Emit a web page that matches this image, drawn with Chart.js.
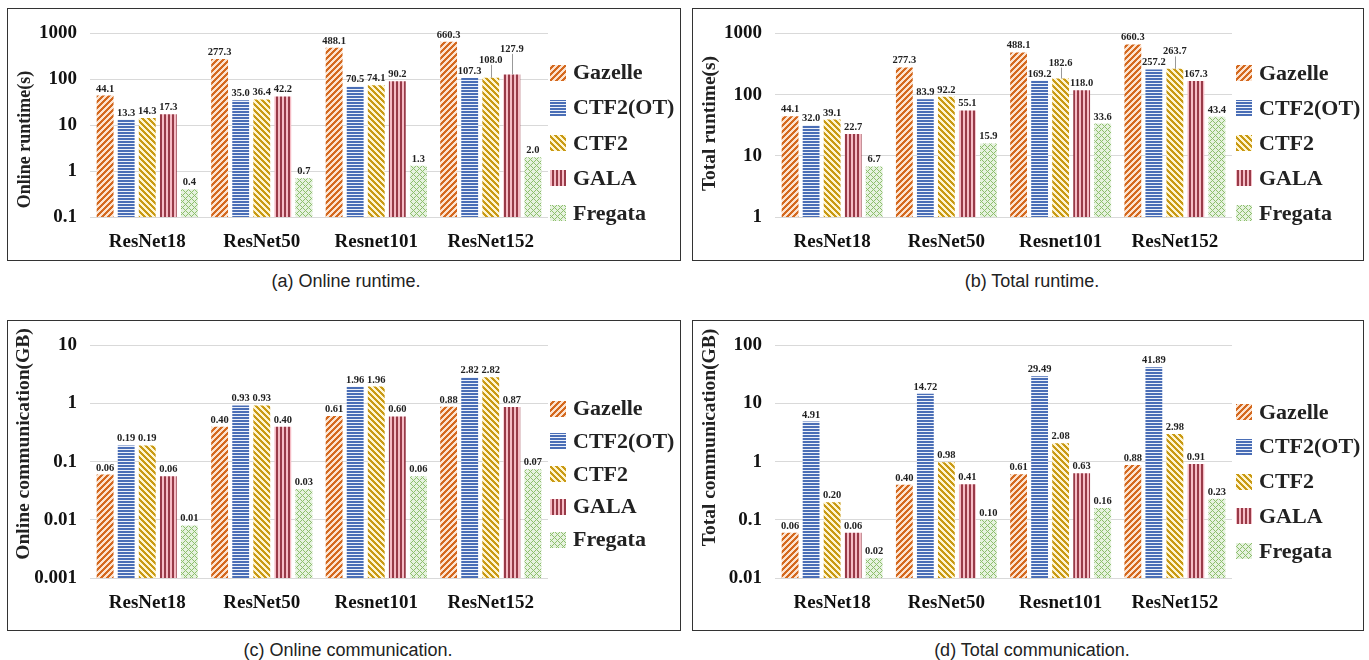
<!DOCTYPE html>
<html><head><meta charset="utf-8">
<script src="https://cdn.jsdelivr.net/npm/chart.js@4.4.0/dist/chart.umd.min.js"></script>
<style>
body{margin:0;background:#fff;width:1369px;height:660px;position:relative;overflow:hidden;}
.panel{position:absolute;border:1px solid #333;}
.panel canvas{position:absolute;left:0;top:0;}
.cap{position:absolute;font-family:"Liberation Sans",Arial,sans-serif;font-size:18px;line-height:20px;color:#222;text-align:center;width:400px;}
</style></head><body>
<div class="panel" style="left:7px;top:8px;width:672px;height:251px"><canvas id="ca" width="672" height="251"></canvas></div>
<div class="panel" style="left:692px;top:8px;width:670px;height:251px"><canvas id="cb" width="670" height="251"></canvas></div>
<div class="panel" style="left:7px;top:320px;width:672px;height:309px"><canvas id="cc" width="672" height="309"></canvas></div>
<div class="panel" style="left:692px;top:320px;width:670px;height:309px"><canvas id="cd" width="670" height="309"></canvas></div>
<div class="cap" style="left:146px;top:271px">(a) Online runtime.</div>
<div class="cap" style="left:832px;top:271px">(b) Total runtime.</div>
<div class="cap" style="left:148px;top:640px">(c) Online communication.</div>
<div class="cap" style="left:832px;top:640px">(d) Total communication.</div>
<script>
// ---------- data ----------
const categories = ['ResNet18', 'ResNet50', 'Resnet101', 'ResNet152'];
const seriesNames = ['Gazelle', 'CTF2(OT)', 'CTF2', 'GALA', 'Fregata'];

// (a) Online runtime (s)
const aGazelle = [44.1, 277.3, 488.1, 660.3];
const aCTF2OT  = [13.3, 35.0, 70.5, 107.3];
const aCTF2    = [14.3, 36.4, 74.1, 108.0];
const aGALA    = [17.3, 42.2, 90.2, 127.9];
const aFregata = [0.4, 0.7, 1.3, 2.0];

// (b) Total runtime (s)
const bGazelle = [44.1, 277.3, 488.1, 660.3];
const bCTF2OT  = [32.0, 83.9, 169.2, 257.2];
const bCTF2    = [39.1, 92.2, 182.6, 263.7];
const bGALA    = [22.7, 55.1, 118.0, 167.3];
const bFregata = [6.7, 15.9, 33.6, 43.4];

// (c) Online communication (GB)
const cGazelle = [0.06, 0.40, 0.61, 0.88];
const cCTF2OT  = [0.19, 0.93, 1.96, 2.82];
const cCTF2    = [0.19, 0.93, 1.96, 2.82];
const cGALA    = [0.056, 0.40, 0.60, 0.87];
const cFregata = [0.008, 0.034, 0.056, 0.074];

// (d) Total communication (GB)
const dGazelle = [0.06, 0.40, 0.61, 0.88];
const dCTF2OT  = [4.91, 14.72, 29.49, 41.89];
const dCTF2    = [0.20, 0.98, 2.08, 2.98];
const dGALA    = [0.06, 0.41, 0.63, 0.91];
const dFregata = [0.022, 0.10, 0.16, 0.23];

// tick values and labels
const ticksA = [0.1, 1, 10, 100, 1000];
const tickLabelsA = ['0.1', '1', '10', '100', '1000'];
const ticksB = [1, 10, 100, 1000];
const tickLabelsB = ['1', '10', '100', '1000'];
const ticksC = [0.001, 0.01, 0.1, 1, 10];
const tickLabelsC = ['0.001', '0.01', '0.1', '1', '10'];
const ticksD = [0.01, 0.1, 1, 10, 100];
const tickLabelsD = ['0.01', '0.1', '1', '10', '100'];

// ---------- patterns ----------
function makePattern(kind, s, w, fg, bg) {
  const c = document.createElement('canvas');
  c.width = s; c.height = s;
  const g = c.getContext('2d');
  g.fillStyle = bg; g.fillRect(0, 0, s, s);
  g.fillStyle = fg;
  for (let y = 0; y < s; y++) for (let x = 0; x < s; x++) {
    let on = false;
    if (kind === 'fwd') on = ((x + y) % s) < w;
    else if (kind === 'back') on = (((x - y) % s + s) % s) < w;
    else if (kind === 'h') on = (y % s) < w;
    else if (kind === 'v') on = (x % s) < w;
    else if (kind === 'cross') on = ((x + y) % s) < w || (((x - y) % s + s) % s) < w;
    if (on) g.fillRect(x, y, 1, 1);
  }
  return g.createPattern(c, 'repeat');
}
const pctx = document.createElement('canvas').getContext('2d');
const patterns = [
  makePattern('fwd', 6, 3, '#D4691F', '#FCE3D0'),
  makePattern('h', 3, 2, '#4A6EB6', '#EEF2FA'),
  makePattern('back', 6, 3, '#C99A14', '#FFF5D2'),
  makePattern('v', 4, 2, '#983A48', '#F5BCC5'),
  makePattern('cross', 6, 1, '#8DBF6C', '#E6F2DF')
];

const SERIF = '"Liberation Serif", "Times New Roman", serif';

// ---------- decoration plugin: axis title, legend, value labels ----------
const deco = {
  id: 'deco',
  afterDatasetsDraw(chart) {
    const o = chart.options.plugins.deco;
    const ctx = chart.ctx;
    ctx.save();
    ctx.font = 'bold 10.5px ' + SERIF;
    ctx.textAlign = 'center';
    ctx.textBaseline = 'alphabetic';
    const h = 10;
    const n = chart.data.labels.length;
    for (let j = 0; j < n; j++) {
      const placed = [];
      chart.data.datasets.forEach((ds, i) => {
        const el = chart.getDatasetMeta(i).data[j];
        const txt = ds.data[j].toFixed(o.decimals);
        const w = ctx.measureText(txt).width;
        const r = {l: el.x - w / 2, r: el.x + w / 2, b: el.y - 4, t: el.y - 4 - h};
        let moved = false, again = true;
        while (again) {
          again = false;
          for (const p of placed) {
            if (r.l < p.r && r.r > p.l && r.t < p.b && r.b > p.t) {
              const nb = p.t - 1;
              r.t -= (r.b - nb); r.b = nb; moved = true; again = true;
            }
          }
        }
        placed.push(r);
        ctx.fillStyle = '#222';
        ctx.fillText(txt, el.x, r.b);
        if (moved) {
          ctx.strokeStyle = '#999';
          ctx.lineWidth = 1;
          ctx.beginPath();
          ctx.moveTo(Math.round(el.x) + 0.5, r.b + 2);
          ctx.lineTo(Math.round(el.x) + 0.5, el.y);
          ctx.stroke();
        }
      });
    }
    ctx.restore();
  },
  afterDraw(chart) {
    const o = chart.options.plugins.deco;
    const ctx = chart.ctx;
    ctx.save();
    // y title
    ctx.translate(o.titleX, o.titleY);
    ctx.rotate(-Math.PI / 2);
    ctx.font = 'bold ' + o.titleSize + 'px ' + SERIF;
    ctx.fillStyle = '#222';
    ctx.textAlign = 'center';
    ctx.textBaseline = 'middle';
    ctx.fillText(o.title, 0, 0);
    ctx.restore();
    // legend
    ctx.save();
    ctx.font = 'bold 22px ' + SERIF;
    ctx.textAlign = 'left';
    ctx.textBaseline = 'middle';
    chart.data.datasets.forEach((ds, i) => {
      const y = o.legY + i * o.legDy;
      ctx.fillStyle = ds.backgroundColor;
      ctx.fillRect(o.legX, Math.round(y - 8), 16, 16);
      ctx.fillStyle = '#222';
      ctx.fillText(ds.label, o.legX + 23, y + 1);
    });
    ctx.restore();
  }
};

function makeChart(id, series, ticks, tickLabels, cfg) {
  const canvas = document.getElementById(id);
  return new Chart(canvas.getContext('2d'), {
    type: 'bar',
    data: {
      labels: categories,
      datasets: seriesNames.map((name, i) => ({
        label: name, data: series[i], backgroundColor: patterns[i],
        borderWidth: 0, categoryPercentage: 0.92, barPercentage: 0.8
      }))
    },
    options: {
      responsive: false, animation: false,
      layout: {padding: {left: 0, right: canvas.width - cfg.right, top: cfg.top, bottom: 0}},
      plugins: {
        legend: {display: false}, tooltip: {enabled: false},
        deco: cfg.deco
      },
      scales: {
        x: {
          grid: {display: false, drawTicks: false}, border: {display: false},
          ticks: {font: {family: SERIF, weight: 'bold', size: 19}, color: '#111', padding: 14},
          afterFit(s) { s.height = canvas.height - cfg.bottom; }
        },
        y: {
          type: 'logarithmic', min: ticks[0], max: ticks[ticks.length - 1],
          grid: {color: '#d9d9d9', lineWidth: 1, drawTicks: false}, border: {display: false},
          ticks: {
            font: {family: SERIF, weight: 'bold', size: 19}, color: '#111', padding: 13, autoSkip: false,
            callback: (v) => { const k = ticks.indexOf(v); return k >= 0 ? tickLabels[k] : ''; }
          },
          afterBuildTicks(s) { s.ticks = ticks.map(v => ({value: v})); },
          afterFit(s) { s.width = 82; }
        }
      }
    },
    plugins: [deco]
  });
}

makeChart('ca', [aGazelle, aCTF2OT, aCTF2, aGALA, aFregata], ticksA, tickLabelsA,
  {top: 13, bottom: 208, right: 540,
   deco: {decimals: 1, title: 'Online runtime(s)', titleSize: 18, titleX: 17, titleY: 130.5, legX: 542, legY: 63.7, legDy: 35.1}});
makeChart('cb', [bGazelle, bCTF2OT, bCTF2, bGALA, bFregata], ticksB, tickLabelsB,
  {top: 13, bottom: 208, right: 539,
   deco: {decimals: 1, title: 'Total runtime(s)', titleSize: 19.5, titleX: 17, titleY: 114.5, legX: 543, legY: 64, legDy: 35}});
makeChart('cc', [cGazelle, cCTF2OT, cCTF2, cGALA, cFregata], ticksC, tickLabelsC,
  {top: 17, bottom: 257, right: 540,
   deco: {decimals: 2, title: 'Online communication(GB)', titleSize: 19.5, titleX: 16, titleY: 123, legX: 542, legY: 87.5, legDy: 32.75}});
makeChart('cd', [dGazelle, dCTF2OT, dCTF2, dGALA, dFregata], ticksD, tickLabelsD,
  {top: 17, bottom: 257, right: 539,
   deco: {decimals: 2, title: 'Total communication(GB)', titleSize: 19.5, titleX: 17, titleY: 116.5, legX: 543, legY: 91, legDy: 34.75}});
</script>
</body></html>
